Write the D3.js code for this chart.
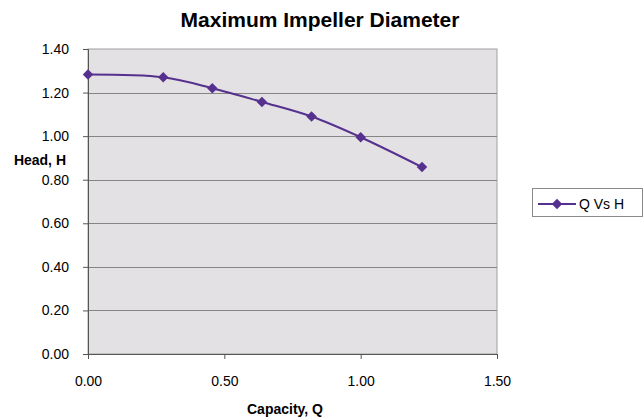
<!DOCTYPE html>
<html>
<head>
<meta charset="utf-8">
<script src="https://cdn.jsdelivr.net/npm/d3@7"></script>
<style>
  body { margin: 0; background: #fff; }
  text { font-family: "Liberation Sans", Arial, sans-serif; }
</style>
</head>
<body>
<div id="plot"></div>
<script>
// data
let capacity = [0, 0.276, 0.456, 0.638, 0.82, 1.0, 1.225];
let head = [1.283, 1.270, 1.220, 1.157, 1.090, 0.995, 0.858];
let xTicks = [0, 0.5, 1.0, 1.5];
let yTicks = [0, 0.2, 0.4, 0.6, 0.8, 1.0, 1.2, 1.4];
let seriesName = 'Q Vs H';

let lineColor = '#56308f';

let margin = { top: 49, right: 147, bottom: 65, left: 88 },
    width = 644 - margin.left - margin.right,
    height = 419 - margin.top - margin.bottom;

let root = d3.select('#plot')
    .append('svg')
        .attr('width', 644)
        .attr('height', 419);

let svg = root.append('g')
    .attr('transform', 'translate(' + margin.left + ',' + margin.top + ')');

let data = capacity.map(function(q, i) { return { q: q, h: head[i] }; });

let x = d3.scaleLinear()
    .domain([0, 1.5])
    .range([0, width]);

let y = d3.scaleLinear()
    .domain([0, 1.4])
    .range([height, 0]);

// plot background
svg.append('rect')
    .attr('width', width)
    .attr('height', height)
    .attr('fill', '#e3e1e3')
    .attr('stroke', '#a0a0a0')
    .attr('stroke-width', 1);

// gridlines
svg.selectAll('.grid')
    .data(yTicks.slice(1, -1))
    .enter()
    .append('line')
        .attr('x1', 0)
        .attr('x2', width)
        .attr('y1', d => Math.round(y(d)) + 0.5)
        .attr('y2', d => Math.round(y(d)) + 0.5)
        .attr('stroke', '#858585')
        .attr('stroke-width', 1);

let xAxis = d3.axisBottom(x)
    .tickValues(xTicks)
    .tickFormat(d3.format('.2f'))
    .tickSize(5)
    .tickPadding(17);

let gx = svg.append('g')
    .attr('transform', 'translate(0,' + height + ')')
    .call(xAxis);

let yAxis = d3.axisLeft(y)
    .tickValues(yTicks)
    .tickFormat(d3.format('.2f'))
    .tickSize(5)
    .tickPadding(14);

let gy = svg.append('g')
    .call(yAxis);

[gx, gy].forEach(function(g) {
    g.select('.domain').attr('stroke', '#555');
    g.selectAll('.tick line').attr('stroke', '#555');
    g.selectAll('.tick text')
        .style('font-size', '14px')
        .style('font-family', '"Liberation Sans", Arial, sans-serif')
        .attr('fill', '#000');
});

// title
root.append('text')
    .attr('x', 320)
    .attr('y', 27)
    .style('text-anchor', 'middle')
    .style('font-size', '21px')
    .style('font-weight', 'bold')
    .text('Maximum Impeller Diameter');

// axis titles
root.append('text')
    .attr('x', 285)
    .attr('y', 414)
    .style('text-anchor', 'middle')
    .style('font-size', '14px')
    .style('font-weight', 'bold')
    .text('Capacity, Q');

root.append('text')
    .attr('x', 66)
    .attr('y', 165)
    .style('text-anchor', 'end')
    .style('font-size', '14px')
    .style('font-weight', 'bold')
    .text('Head, H');

// series line
let line = d3.line()
    .x(d => x(d.q))
    .y(d => y(d.h))
    .curve(d3.curveCatmullRom.alpha(0.5));

svg.append('path')
    .datum(data)
    .attr('d', line)
    .attr('fill', 'none')
    .attr('stroke', lineColor)
    .attr('stroke-width', 2);

let diamond = d3.symbol().type(d3.symbolDiamond2).size(70);

svg.selectAll('.pt')
    .data(data)
    .enter()
    .append('path')
        .attr('d', diamond)
        .attr('transform', d => 'translate(' + x(d.q) + ',' + y(d.h) + ')')
        .attr('fill', lineColor);

// legend
let legend = root.append('g')
    .attr('transform', 'translate(532,188)');

legend.append('rect')
    .attr('x', 0.5)
    .attr('y', 0.5)
    .attr('width', 110)
    .attr('height', 28)
    .attr('fill', '#fff')
    .attr('stroke', '#8a8a8a');

legend.append('line')
    .attr('x1', 6)
    .attr('x2', 44)
    .attr('y1', 16)
    .attr('y2', 16)
    .attr('stroke', lineColor)
    .attr('stroke-width', 2);

legend.append('path')
    .attr('d', diamond)
    .attr('transform', 'translate(25,16)')
    .attr('fill', lineColor);

legend.append('text')
    .attr('x', 47)
    .attr('y', 21)
    .style('font-size', '14px')
    .text(seriesName);
</script>
</body>
</html>
